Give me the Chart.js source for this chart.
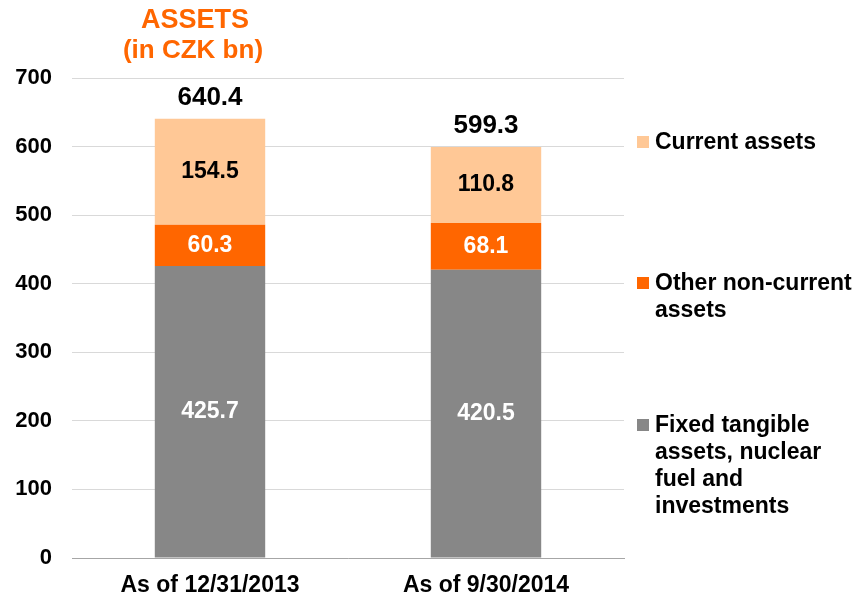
<!DOCTYPE html>
<html>
<head>
<meta charset="utf-8">
<script src="https://cdn.jsdelivr.net/npm/chart.js@4/dist/chart.umd.min.js"></script>
<style>
  body { margin: 0; background: #fff; }
  #wrap { position: relative; width: 858px; height: 597px; }
  .legend { position: absolute; left: 637px; font: bold 23px "Liberation Sans", Arial, sans-serif; color: #000; line-height: 27px; }
  .legend span.box { position: absolute; left: 0; top: 8px; width: 12px; height: 12px; }
  .legend div.txt { padding-left: 18px; }
</style>
</head>
<body>
<div id="wrap">
  <canvas id="chart" width="858" height="597"></canvas>
</div>
<script>
var categories = ['As of 12/31/2013', 'As of 9/30/2014'];
var fixedAssets = [425.7, 420.5];
var otherNonCurrent = [60.3, 68.1];
var currentAssets = [154.5, 110.8];
var totals = [640.4, 599.3];
var yTicks = [0, 100, 200, 300, 400, 500, 600, 700];

var seriesNames = ['Fixed tangible assets, nuclear fuel and investments', 'Other non-current assets', 'Current assets'];
var seriesColors = ['#878787', '#ff6600', '#ffc896'];
var labelColors = ['#ffffff', '#ffffff', '#000000'];

var font = '"Liberation Sans", Arial, sans-serif';

// values in segments + totals above
var labelPlugin = {
	id: 'labels',
	afterDatasetsDraw: function(chart) {
		var ctx = chart.ctx;
		ctx.save();
		ctx.font = 'bold 23px ' + font;
		ctx.textAlign = 'center';
		ctx.textBaseline = 'middle';
		chart.data.datasets.forEach(function(ds, di) {
			var meta = chart.getDatasetMeta(di);
			meta.data.forEach(function(bar, i) {
				ctx.fillStyle = labelColors[di];
				ctx.fillText(ds.data[i].toFixed(1), bar.x, (bar.y + bar.base) / 2);
			});
		});
		var y = chart.scales.y;
		var topMeta = chart.getDatasetMeta(2);
		ctx.fillStyle = '#000';
		ctx.font = 'bold 26px ' + font;
		topMeta.data.forEach(function(bar, i) {
			ctx.fillText(totals[i].toFixed(1), bar.x, y.getPixelForValue(totals[i]) - 21);
		});
		// title
		ctx.fillStyle = '#ff6600';
		ctx.font = 'bold 27px ' + font;
		ctx.fillText('ASSETS', 195, 21);
		ctx.font = 'bold 26px ' + font;
		ctx.fillText('(in CZK bn)', 193, 51);
		ctx.restore();
	}
};

var datasets = [fixedAssets, otherNonCurrent, currentAssets].map(function(d, i) {
	return {
		label: seriesNames[i],
		data: d,
		backgroundColor: seriesColors[i],
		borderWidth: 0,
		categoryPercentage: 1.0,
		barPercentage: 0.4
	};
});

new Chart(document.getElementById('chart'), {
	type: 'bar',
	data: { labels: categories, datasets: datasets },
	options: {
		responsive: false,
		animation: false,
		layout: { padding: { top: 78, right: 234, left: 0, bottom: 0 } },
		plugins: { legend: { display: false }, tooltip: { enabled: false } },
		scales: {
			x: {
				stacked: true,
				grid: { display: false },
				border: { display: true, color: '#a6a6a6', width: 1 },
				ticks: { color: '#000', font: { family: font, weight: 'bold', size: 23 }, padding: 6 },
				afterFit: function(s) { s.height = 39; }
			},
			y: {
				stacked: true,
				min: 0,
				max: 700,
				afterBuildTicks: function(s) { s.ticks = yTicks.map(function(v) { return { value: v }; }); },
				grid: { color: '#d9d9d9', drawTicks: false },
				border: { display: false },
				ticks: { color: '#000', font: { family: font, weight: 'bold', size: 22 }, padding: 20 },
				afterFit: function(s) { s.width = 72; }
			}
		}
	},
	plugins: [labelPlugin]
});

// legend, top item first like the reference
var legendTops = [128, 269, 411];
[2, 1, 0].forEach(function(si, k) {
	var el = document.createElement('div');
	el.className = 'legend';
	el.style.top = legendTops[k] + 'px';
	el.style.width = '221px';
	el.innerHTML = '<span class="box" style="background:' + seriesColors[si] + '"></span><div class="txt">' + seriesNames[si] + '</div>';
	document.getElementById('wrap').appendChild(el);
});
</script>
</body>
</html>
